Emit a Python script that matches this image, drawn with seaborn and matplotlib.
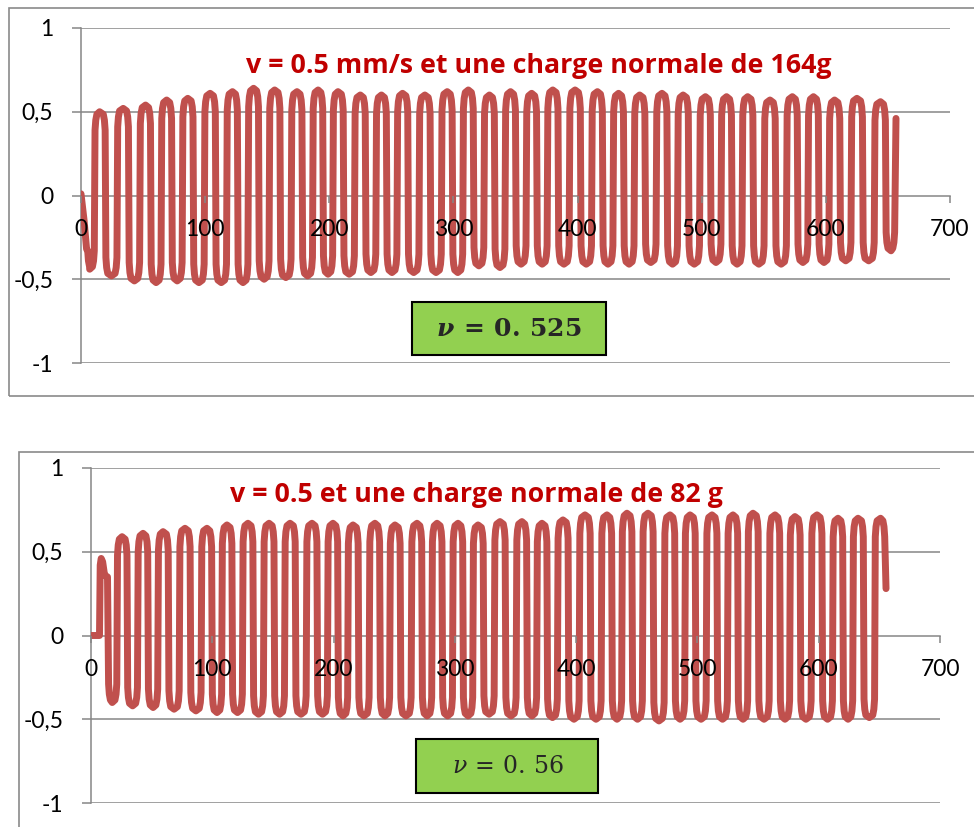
import matplotlib
matplotlib.use("Agg")
import matplotlib.pyplot as plt
from matplotlib.patches import Rectangle
import pandas as pd
import seaborn as sns

# ---------------- data ----------------
# Upper test: v = 0.5 mm/s, normal load 164 g
top_title = "v = 0.5 mm/s et une charge normale de 164g"
top_nu = r"$\nu\,=\,0.\,525$"
top_head_t = [0.0, 2.5, 4.5]
top_head_v = [0.01, -0.15, -0.32]
top_trough_t = [7, 24.5, 43, 60.5, 77.5, 95, 113, 130.5, 147.5, 165, 182.5, 199, 216,
                233.5, 250.5, 268, 286, 303.5, 320.5, 337.5, 354.5, 371.5, 389, 407,
                424.5, 441.5, 459, 476.5, 494, 511.5, 528.5, 546, 564, 581.5, 598.5,
                616, 634.5, 652.5]
top_trough_v = [-0.44, -0.48, -0.51, -0.52, -0.51, -0.52, -0.52, -0.52, -0.50, -0.49,
                -0.48, -0.47, -0.47, -0.46, -0.46, -0.46, -0.46, -0.46, -0.42, -0.43,
                -0.41, -0.41, -0.41, -0.41, -0.41, -0.41, -0.40, -0.41, -0.41, -0.40,
                -0.41, -0.41, -0.41, -0.40, -0.40, -0.39, -0.39, -0.33]
top_peak_t = [15, 34, 52, 69, 86, 104, 122, 139, 156, 174, 191, 207, 225, 242, 259,
              277, 295, 312, 329, 346, 363, 380, 398, 416, 433, 450, 468, 485, 503,
              520, 537, 555, 573, 590, 607, 625, 644]
top_peak_v = [0.50, 0.52, 0.54, 0.57, 0.58, 0.61, 0.62, 0.64, 0.63, 0.62, 0.63, 0.62,
              0.60, 0.60, 0.61, 0.60, 0.62, 0.63, 0.60, 0.62, 0.61, 0.63, 0.63, 0.62,
              0.61, 0.60, 0.61, 0.60, 0.59, 0.59, 0.59, 0.57, 0.59, 0.59, 0.57, 0.58,
              0.56]
top_tail = (656.5, 0.46)

# Lower test: v = 0.5, normal load 82 g
bot_title = "v = 0.5 et une charge normale de 82 g"
bot_nu = r"$\nu\,=\,0.\,56$"
bot_head_t = [0.0, 7.0, 7.6, 8.4, 9.6, 11.2, 13.6]
bot_head_v = [0.0, 0.0, 0.42, 0.46, 0.44, 0.36, 0.35]
bot_trough_t = [17.5, 34.3, 51.2, 68.5, 86.5, 103.9, 120.8, 138.1, 155.5, 173.2, 190.9,
                207.8, 225.1, 242.4, 259.7, 277.1, 294.0, 310.9, 328.2, 346.3, 363.6,
                380.5, 398.2, 416.4, 433.7, 450.6, 468.3, 485.7, 503.0, 520.7, 537.6,
                554.9, 572.2, 589.5, 607.3, 624.2, 641.7]
bot_trough_v = [-0.40, -0.42, -0.43, -0.44, -0.45, -0.46, -0.46, -0.47, -0.47, -0.47,
                -0.47, -0.48, -0.48, -0.48, -0.48, -0.48, -0.48, -0.48, -0.47, -0.48,
                -0.48, -0.49, -0.50, -0.50, -0.50, -0.50, -0.51, -0.50, -0.50, -0.50,
                -0.50, -0.50, -0.50, -0.50, -0.50, -0.50, -0.49]
bot_peak_t = [25.6, 42.9, 59.4, 77.5, 95.6, 112.1, 129.4, 146.8, 164.1, 182.2, 199.5,
              216.0, 234.1, 250.6, 268.8, 285.3, 302.6, 319.1, 337.2, 355.3, 371.8,
              389.1, 407.3, 425.4, 441.9, 459.2, 477.4, 493.9, 512.0, 529.3, 545.8,
              564.0, 580.4, 598.6, 615.9, 632.4, 651.0]
bot_peak_v = [0.59, 0.61, 0.62, 0.64, 0.64, 0.66, 0.67, 0.67, 0.67, 0.67, 0.67, 0.66,
              0.67, 0.66, 0.67, 0.67, 0.67, 0.66, 0.68, 0.68, 0.67, 0.69, 0.72, 0.72,
              0.73, 0.73, 0.72, 0.72, 0.72, 0.72, 0.73, 0.72, 0.71, 0.72, 0.70, 0.70,
              0.70]
bot_tail = (655.5, 0.28)

x_ticks = [0, 100, 200, 300, 400, 500, 600, 700]
y_ticks = [-1, -0.5, 0, 0.5, 1]
y_labels = ["-1", "-0,5", "0", "0,5", "1"]

LINE = "#C0504D"
GRID = "#868686"
TITLE_RED = "#C00000"
BOX_GREEN = "#92D050"

sns.set_theme(style="white")
plt.rcParams["font.family"] = ["Lato", "DejaVu Sans"]
plt.rcParams["mathtext.fontset"] = "custom"
plt.rcParams["mathtext.it"] = "DejaVu Serif:italic:bold"
plt.rcParams["mathtext.rm"] = "DejaVu Serif:bold"
plt.rcParams["mathtext.bf"] = "DejaVu Serif:bold"

# rounded plateau profile: (offset from slip edge in s, drop from extremum)
PLATEAU = ((0.3, 0.11), (0.9, 0.05), (1.8, 0.015))


def build_trace(head_t, head_v, trough_t, trough_v, peak_t, peak_v, tail):
    """Friction trace: alternating rounded plateaus joined by steep slip edges."""
    ext = []
    for i in range(len(trough_t)):
        ext.append((trough_t[i], trough_v[i], -1))
        if i < len(peak_t):
            ext.append((peak_t[i], peak_v[i], 1))
    times = [e[0] for e in ext]
    edges = ([head_t[-1] + 0.6]
             + [(a + b) / 2 for a, b in zip(times[:-1], times[1:])]
             + [tail[0] - 0.8])
    ts, vs = list(head_t), list(head_v)
    for k, (te, ve, s) in enumerate(ext):
        lo, hi = edges[k], edges[k + 1]
        pts = [(lo + d, dv) for d, dv in PLATEAU]
        pts.append((te, 0.0))
        pts += [(hi - d, dv) for d, dv in reversed(PLATEAU)]
        for tt, dv in pts:
            ts.append(tt)
            vs.append(ve - s * dv)
    ts.append(tail[0])
    vs.append(tail[1])
    return pd.DataFrame({"t": ts, "f": vs})


W, H = 974, 827
fig = plt.figure(figsize=(W / 100, H / 100), dpi=100)
fig.patch.set_facecolor("white")


def fx(px):
    return px / W


def fy(py):
    return 1 - py / H


def panel(ax_rect, df, title, title_xy, nu_text, box, nu_xy, nu_size, nu_math):
    ax = fig.add_axes(ax_rect)
    ax.set_facecolor("none")
    for y in [-1, -0.5, 0.5, 1]:
        ax.axhline(y, color=GRID, lw=1.1, zorder=1)
    sns.lineplot(data=df, x="t", y="f", ax=ax, sort=False, estimator=None,
                 color=LINE, linewidth=5.0, solid_joinstyle="round",
                 solid_capstyle="round", zorder=2)
    ax.set_xlim(0, 700)
    ax.set_ylim(-1, 1)
    ax.set_xlabel("")
    ax.set_ylabel("")
    ax.set_axisbelow(False)
    for side in ("top", "right"):
        ax.spines[side].set_visible(False)
    ax.spines["left"].set_color(GRID)
    ax.spines["left"].set_linewidth(1.1)
    ax.spines["left"].set_zorder(1)
    ax.spines["bottom"].set_position(("data", 0))
    ax.spines["bottom"].set_color(GRID)
    ax.spines["bottom"].set_linewidth(1.1)
    ax.spines["bottom"].set_zorder(1)
    ax.set_xticks(x_ticks)
    ax.set_xticklabels([str(v) for v in x_ticks])
    ax.set_yticks(y_ticks)
    ax.set_yticklabels(y_labels)
    ax.tick_params(axis="x", direction="out", length=5, width=1.1, color=GRID,
                   pad=12, labelsize=16.5, labelcolor="black", bottom=True)
    ax.tick_params(axis="y", direction="out", length=6.5, width=1.1, color=GRID,
                   pad=13.5, labelsize=16.5, labelcolor="black", left=True)
    ax.grid(False)

    fig.text(fx(title_xy[0]), fy(title_xy[1]), title, ha="center", va="baseline",
             color=TITLE_RED, fontsize=19.3, fontweight="bold",
             family=["Open Sans", "DejaVu Sans"])

    x0, y0, x1, y1 = box
    fig.patches.append(Rectangle((fx(x0), fy(y1)), fx(x1 - x0), (y1 - y0) / H,
                                 transform=fig.transFigure, facecolor=BOX_GREEN,
                                 edgecolor="black", linewidth=1.5, zorder=3))
    fig.text(fx(nu_xy[0]), fy(nu_xy[1]), nu_text, ha="center", va="center",
             fontsize=nu_size, math_fontfamily=nu_math, zorder=4)
    return ax


top_df = build_trace(top_head_t, top_head_v, top_trough_t, top_trough_v,
                     top_peak_t, top_peak_v, top_tail)
bot_df = build_trace(bot_head_t, bot_head_v, bot_trough_t, bot_trough_v,
                     bot_peak_t, bot_peak_v, bot_tail)

# outer chart frames
fig.patches.append(Rectangle((fx(9), fy(396)), 1.2, (396 - 8) / H,
                             transform=fig.transFigure, fill=False,
                             edgecolor="#8A8A8A", linewidth=1.2, clip_on=False))
fig.patches.append(Rectangle((fx(19), -0.2), 1.2, 0.2 + fy(452),
                             transform=fig.transFigure, fill=False,
                             edgecolor="#8A8A8A", linewidth=1.2, clip_on=False))

panel([fx(81), fy(363), fx(950 - 81), (363 - 28) / H], top_df, top_title,
      (539, 73), top_nu, (412, 302, 606, 355), (509, 329), 18, "custom")
panel([fx(91), fy(803), fx(940 - 91), (803 - 468) / H], bot_df, bot_title,
      (476, 502), bot_nu, (416, 739, 598, 793), (508, 766), 17, "dejavuserif")

fig.savefig("out.png", dpi=100, facecolor="white")
